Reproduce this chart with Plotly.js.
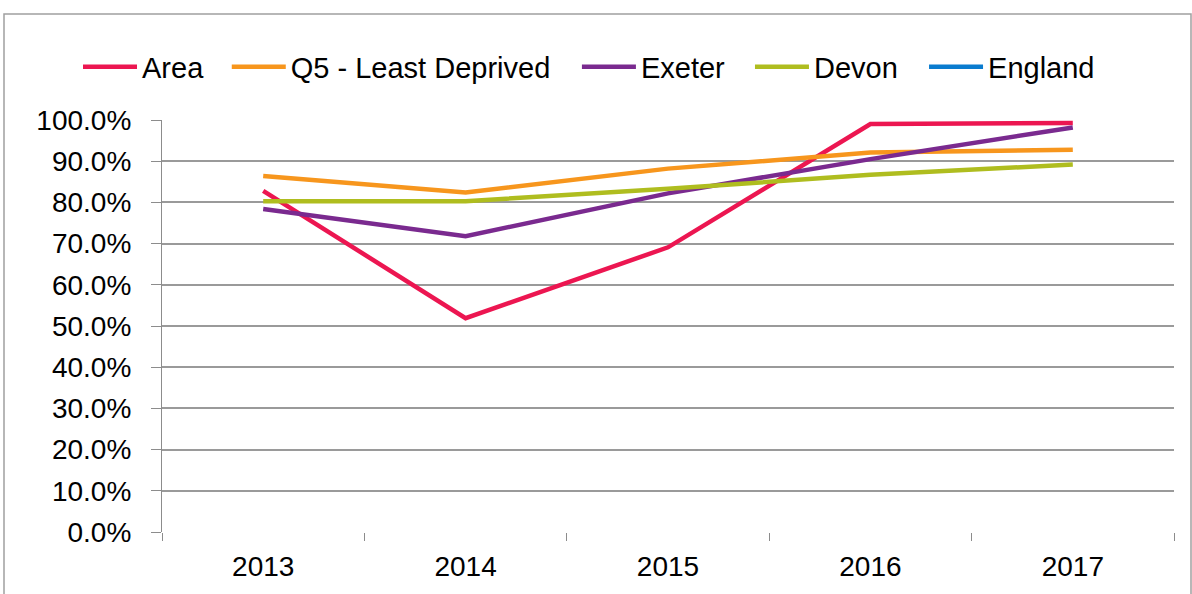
<!DOCTYPE html>
<html>
<head>
<meta charset="utf-8">
<script src="https://cdn.plot.ly/plotly-3.0.1.min.js"></script>
<style>html,body{margin:0;padding:0;background:#fff;}#chart{width:1192px;height:594px;}</style>
</head>
<body>
<div id="chart"></div>
<script>
const years = ['2013', '2014', '2015', '2016', '2017'];
const area = [0.828, 0.519, 0.691, 0.990, 0.993];
const q5LeastDeprived = [0.864, 0.824, 0.882, 0.921, 0.928];
const exeter = [0.784, 0.718, 0.822, 0.905, 0.982];
const devon = [0.803, 0.803, 0.833, 0.867, 0.892];
const england = [null, null, null, null, null];

const seriesNames = ['Area', 'Q5 - Least Deprived', 'Exeter', 'Devon', 'England'];
const seriesValues = [area, q5LeastDeprived, exeter, devon, england];
const seriesColors = ['#ec1651', '#f7961d', '#7a2a8f', '#afbd1f', '#0a7ccf'];
const legendX = [-0.083, 0.064, 0.41, 0.581, 0.753];

const L = 162, R = 18, T = 120, B = 62, W = 1192, H = 594;
const pw = W - L - R, ph = H - T - B;

const traces = seriesNames.map((n, i) => ({
  type: 'scatter', mode: 'lines', name: n, x: years, y: seriesValues[i],
  line: {color: seriesColors[i], width: 4.5},
  legend: i === 0 ? 'legend' : 'legend' + (i + 1),
  hovertemplate: '%{y:.1%}<extra>' + n + '</extra>'
}));

const layout = {
  width: W, height: H,
  margin: {l: L, r: R, t: T, b: B},
  paper_bgcolor: '#ffffff', plot_bgcolor: '#ffffff',
  font: {family: 'Liberation Sans, Arial, sans-serif', color: '#000', size: 28},
  showlegend: true,
  xaxis: {
    type: 'category', range: [-0.5, 4.5], tickson: 'boundaries', ticks: 'outside', ticklen: 8,
    tickcolor: '#8c8c8c', tickwidth: 1.2, showgrid: false, showline: false,
    tickfont: {size: 28}, zeroline: false, ticklabelstandoff: 15
  },
  yaxis: {
    range: [0, 1], dtick: 0.1, tick0: 0, tickformat: '.1%',
    ticks: 'outside', ticklen: 10, tickcolor: '#8c8c8c', tickwidth: 1.2,
    showline: true, linecolor: '#8c8c8c', linewidth: 1.2,
    showgrid: true, gridcolor: '#9a9a9a', gridwidth: 1.6,
    zeroline: false, tickfont: {size: 28}, ticklabelstandoff: 14
  },
  shapes: [{
    type: 'rect', xref: 'paper', yref: 'paper',
    x0: (4 - L) / pw, x1: (1191 - L) / pw,
    y0: (H - B - 620) / ph, y1: (H - B - 14) / ph,
    line: {color: '#a0a0a0', width: 1.5}, fillcolor: 'rgba(0,0,0,0)', layer: 'below'
  }]
};
legendX.forEach((lx, i) => {
  const key = i === 0 ? 'legend' : 'legend' + (i + 1);
  layout[key] = {
    orientation: 'h', x: lx, xanchor: 'left', y: (H - B - 67) / ph, yanchor: 'middle',
    bgcolor: 'rgba(0,0,0,0)', borderwidth: 0, font: {size: 29, color: '#000'},
    itemwidth: 54, itemclick: false, itemdoubleclick: false
  };
});

Plotly.newPlot('chart', traces, layout, {displayModeBar: false});
</script>
</body>
</html>
